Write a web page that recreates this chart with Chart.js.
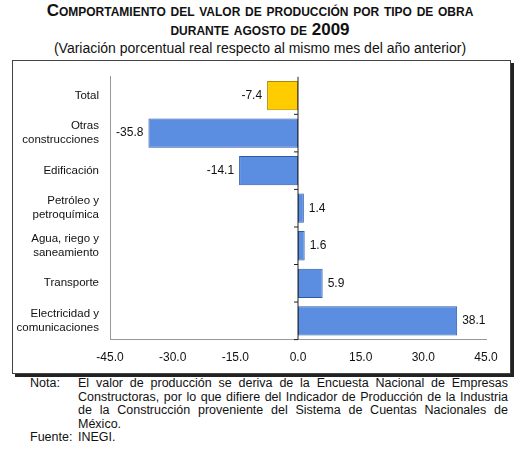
<!DOCTYPE html>
<html>
<head>
<meta charset="utf-8">
<script src="https://cdn.jsdelivr.net/npm/chart.js@4"></script>
<style>
  body { margin: 0; width: 520px; height: 456px; background: #fff; font-family: "Liberation Sans", Arial, sans-serif; position: relative; }
  .title { position: absolute; top: 1px; left: 0; width: 520px; text-align: center; font-weight: bold; font-size: 17px; line-height: 19px; font-variant: small-caps; color: #111; }
  .sub { position: absolute; top: 40px; left: 0; width: 520px; text-align: center; font-size: 14px; color: #111; }
  .box { position: absolute; left: 12px; top: 60px; width: 497px; height: 312px; border: 1px solid #444; box-shadow: 3px 3px 0 #222; }
  canvas { position: absolute; left: 12px; top: 60px; }
  .notes { position: absolute; left: 30px; top: 377px; width: 478px; font-size: 12.5px; line-height: 13.6px; color: #111; }
  .notes td { vertical-align: top; padding: 0; }
</style>
</head>
<body>
<div class="title">Comportamiento del valor de producción por tipo de obra<br>durante agosto de 2009</div>
<div class="sub">(Variación porcentual real respecto al mismo mes del año anterior)</div>
<div class="box"></div>
<canvas id="chart" width="498" height="312"></canvas>
<div class="notes">
<table cellspacing="0"><tr><td style="width:48px">Nota:</td><td style="text-align:justify">El valor de producción se deriva de la Encuesta Nacional de Empresas Constructoras, por lo que difiere del Indicador de Producción de la Industria de la Construcción proveniente del Sistema de Cuentas Nacionales de México.</td></tr>
<tr><td>Fuente:</td><td>INEGI.</td></tr></table>
</div>
<script>
// Chart data
const categories = [
  "Total",
  ["Otras", "construcciones"],
  "Edificación",
  ["Petróleo y", "petroquímica"],
  ["Agua, riego y", "saneamiento"],
  "Transporte",
  ["Electricidad y", "comunicaciones"]
];
const values = [-7.4, -35.8, -14.1, 1.4, 1.6, 5.9, 38.1];
const barColors = ["#ffcc00", "#5b8de0", "#5b8de0", "#5b8de0", "#5b8de0", "#5b8de0", "#5b8de0"];
const xTicks = [-45, -30, -15, 0, 15, 30, 45];

// Draw value labels next to each bar and the zero line
const labelPlugin = {
  id: "labels",
  afterDatasetsDraw(chart) {
    const ctx = chart.ctx;
    const x = chart.scales.x;
    const area = chart.chartArea;
    const zero = x.getPixelForValue(0);
    ctx.save();
    ctx.strokeStyle = "#222";
    ctx.beginPath();
    ctx.moveTo(zero, area.top);
    ctx.lineTo(zero, area.bottom);
    chart.scales.y.ticks.forEach((t, i) => {
      const yp = chart.scales.y.getPixelForTick(i);
      const half = (chart.scales.y.getPixelForTick(1) - chart.scales.y.getPixelForTick(0)) / 2;
      ctx.moveTo(zero - 4, yp + half);
      ctx.lineTo(zero, yp + half);
    });
    ctx.stroke();
    ctx.font = "12px 'Liberation Sans', Arial";
    ctx.fillStyle = "#111";
    ctx.textBaseline = "middle";
    chart.getDatasetMeta(0).data.forEach((bar, i) => {
      const v = values[i];
      if (v < 0) {
        ctx.textAlign = "right";
        ctx.fillText(v.toFixed(1), bar.x - 5, bar.y);
      } else {
        ctx.textAlign = "left";
        ctx.fillText(v.toFixed(1), bar.x + 5, bar.y);
      }
    });
    ctx.restore();
  }
};

new Chart(document.getElementById("chart"), {
  type: "bar",
  data: {
    labels: categories,
    datasets: [{
      data: values,
      backgroundColor: barColors,
      borderColor: barColors.map(c => c === "#ffcc00" ? "#b08800" : "#2d5aa8"),
      borderWidth: 1,
      borderSkipped: false,
      categoryPercentage: 1,
      barPercentage: 0.78
    }]
  },
  options: {
    indexAxis: "y",
    responsive: false,
    animation: false,
    layout: { padding: { top: 0, right: 24, bottom: 4, left: 0 } },
    plugins: { legend: { display: false }, tooltip: { enabled: false } },
    scales: {
      x: {
        min: -45, max: 45,
        afterBuildTicks: (s) => { s.ticks = xTicks.map(v => ({ value: v })); },
        ticks: { callback: (v) => v.toFixed(1), color: "#111", font: { size: 12, family: "'Liberation Sans', Arial" } },
        grid: { display: false, drawTicks: true },
        border: { color: "#999" }
      },
      y: {
        afterFit: (s) => { s.width = 98; },
        ticks: { color: "#111", font: { size: 11.5, family: "'Liberation Sans', Arial" } },
        grid: { display: false },
        border: { color: "#999" }
      }
    }
  },
  plugins: [labelPlugin]
});
</script>
</body>
</html>
